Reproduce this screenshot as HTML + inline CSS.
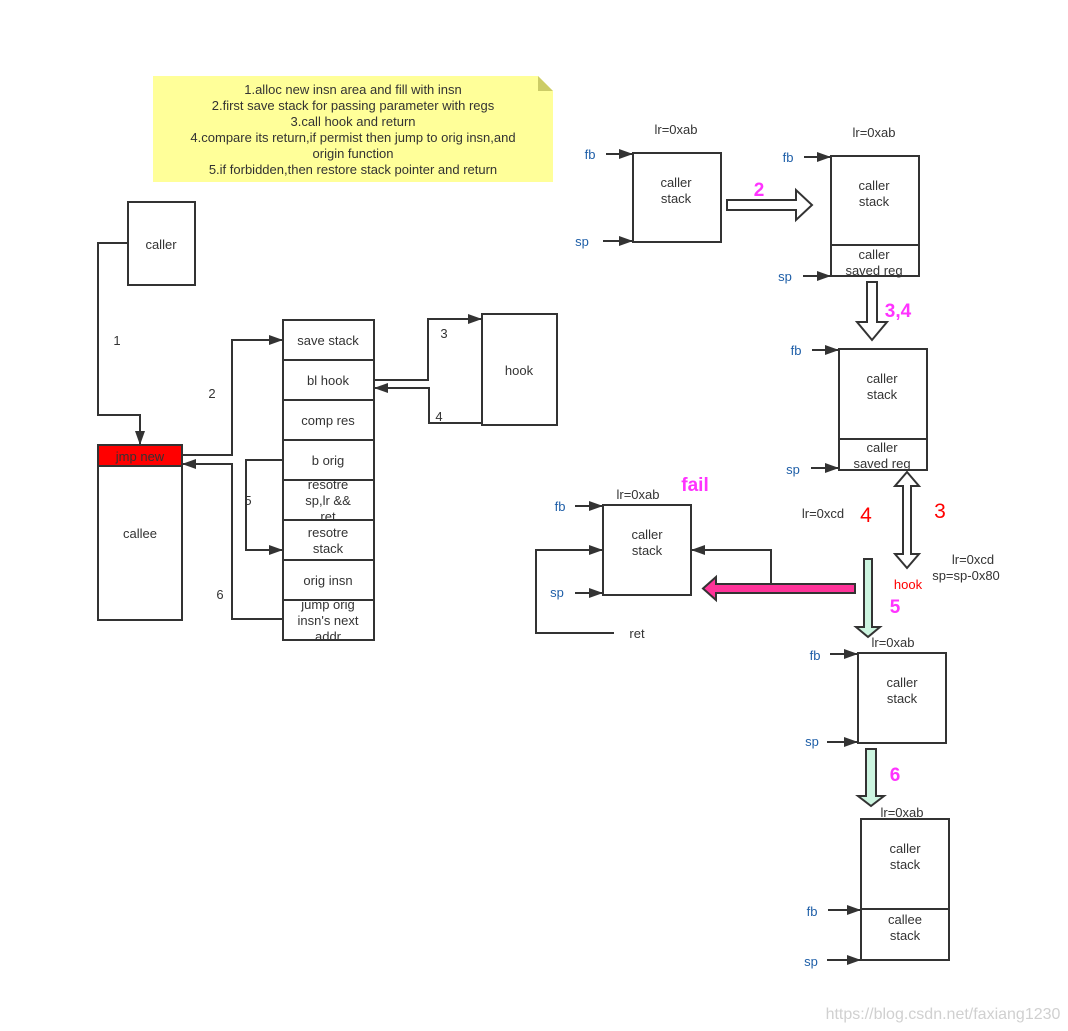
<!DOCTYPE html>
<html><head><meta charset="utf-8">
<style>
html,body{margin:0;padding:0;background:#fff;}
svg{display:block;font-family:"Liberation Sans","DejaVu Sans",sans-serif;}
</style></head>
<body>
<svg width="1068" height="1031" viewBox="0 0 1068 1031" xmlns="http://www.w3.org/2000/svg">
<defs>
<marker id="a" markerWidth="14" markerHeight="10" refX="13" refY="5" orient="auto" markerUnits="userSpaceOnUse">
<path d="M0,0 L14,5 L0,10 Z" fill="#333"/>
</marker>
</defs>
<rect width="1068" height="1031" fill="#fff"/>

<path d="M153,76 H538 L553,91 V182 H153 Z" fill="#ffff99"/>
<path d="M538,76 L553,91 H538 Z" fill="#cccc66"/>
<g font-size="13" fill="#333" text-anchor="middle">
<text x="353" y="94">1.alloc new insn area and fill with insn</text>
<text x="353" y="110">2.first save stack for passing parameter with regs</text>
<text x="353" y="126">3.call hook and return</text>
<text x="353" y="142">4.compare its return,if permist then jump to orig insn,and</text>
<text x="353" y="158">origin function</text>
<text x="353" y="174">5.if forbidden,then restore stack pointer and return</text>
</g>

<g stroke="#333" stroke-width="2" fill="none">
<rect x="128" y="202" width="67" height="83" fill="#fff"/>
<polyline points="128,243 98,243 98,415 140,415 140,444" marker-end="url(#a)"/>
<rect x="98" y="445" width="84" height="175" fill="#fff"/>
<rect x="98" y="445" width="84" height="21" fill="#ff0000"/>
<rect x="283" y="320" width="91" height="320" fill="#fff"/>
<line x1="283" y1="360" x2="374" y2="360"/>
<line x1="283" y1="400" x2="374" y2="400"/>
<line x1="283" y1="440" x2="374" y2="440"/>
<line x1="283" y1="480" x2="374" y2="480"/>
<line x1="283" y1="520" x2="374" y2="520"/>
<line x1="283" y1="560" x2="374" y2="560"/>
<line x1="283" y1="600" x2="374" y2="600"/>
<polyline points="182,455 232,455 232,340 282,340" marker-end="url(#a)"/>
<polyline points="283,619 232,619 232,464 183,464" marker-end="url(#a)"/>
<polyline points="283,460 246,460 246,550 282,550" marker-end="url(#a)"/>
<rect x="482" y="314" width="75" height="111" fill="#fff"/>
<polyline points="374,380 428,380 428,319 481,319" marker-end="url(#a)"/>
<polyline points="482,423 429,423 429,388 375,388" marker-end="url(#a)"/>
</g>
<g font-size="13" fill="#333" text-anchor="middle">
<text x="161" y="249">caller</text>
<text x="140" y="461">jmp new</text>
<text x="140" y="538">callee</text>
<text x="117" y="345">1</text>
<text x="212" y="398">2</text>
<text x="220" y="599">6</text>
<text x="248" y="505">5</text>
<text x="444" y="338">3</text>
<text x="439" y="421">4</text>
<text x="519" y="375">hook</text>
<text x="328" y="345">save stack</text>
<text x="328" y="385">bl hook</text>
<text x="328" y="425">comp res</text>
<text x="328" y="465">b orig</text>
<text x="328" y="489">resotre</text>
<text x="328" y="505">sp,lr &amp;&amp;</text>
<text x="328" y="521">ret</text>
<text x="328" y="537">resotre</text>
<text x="328" y="553">stack</text>
<text x="328" y="585">orig insn</text>
<text x="328" y="609">jump orig</text>
<text x="328" y="625">insn's next</text>
<text x="328" y="641">addr</text>
</g>
<rect x="284" y="641" width="90" height="6" fill="#fff"/>

<g stroke="#333" stroke-width="2" fill="none">
<rect x="633" y="153" width="88" height="89" fill="#fff"/>
<line x1="606" y1="154" x2="632" y2="154" marker-end="url(#a)"/>
<line x1="603" y1="241" x2="632" y2="241" marker-end="url(#a)"/>
<rect x="831" y="156" width="88" height="120" fill="#fff"/>
<line x1="831" y1="245" x2="919" y2="245"/>
<line x1="804" y1="157" x2="830" y2="157" marker-end="url(#a)"/>
<line x1="803" y1="276" x2="830" y2="276" marker-end="url(#a)"/>
<rect x="839" y="349" width="88" height="121" fill="#fff"/>
<line x1="839" y1="439" x2="927" y2="439"/>
<line x1="812" y1="350" x2="838" y2="350" marker-end="url(#a)"/>
<line x1="811" y1="468" x2="838" y2="468" marker-end="url(#a)"/>
<rect x="603" y="505" width="88" height="90" fill="#fff"/>
<line x1="575" y1="506" x2="602" y2="506" marker-end="url(#a)"/>
<line x1="575" y1="593" x2="602" y2="593" marker-end="url(#a)"/>
<polyline points="771,584 771,550 692,550" marker-end="url(#a)"/>
<polyline points="614,633 536,633 536,550 602,550" marker-end="url(#a)"/>
<rect x="858" y="653" width="88" height="90" fill="#fff"/>
<line x1="830" y1="654" x2="857" y2="654" marker-end="url(#a)"/>
<line x1="827" y1="742" x2="857" y2="742" marker-end="url(#a)"/>
<rect x="861" y="819" width="88" height="141" fill="#fff"/>
<line x1="861" y1="909" x2="949" y2="909"/>
<line x1="828" y1="910" x2="860" y2="910" marker-end="url(#a)"/>
<line x1="827" y1="960" x2="860" y2="960" marker-end="url(#a)"/>
<path d="M727,200 H796 V190 L812,205 L796,220 V210 H727 Z" fill="#fff"/>
<path d="M867,282 H877 V322 H887 L872,340 L857,322 H867 Z" fill="#fff"/>
<path d="M907,472 L919,486 H911 V554 H919 L907,568 L895,554 H903 V486 H895 Z" fill="#fff"/>
</g>
<path d="M864,559 H872 V627 H880 L868,637 L856,627 H864 Z" fill="#ccf5e0" stroke="#333" stroke-width="2"/>
<path d="M866,749 H876 V796 H884 L871,806 L858,796 H866 Z" fill="#ccf5e0" stroke="#333" stroke-width="2"/>
<path d="M855,584 H716 V577 L703,588.5 L716,600 V593 H855 Z" fill="#ff3399" stroke="#333" stroke-width="2"/>

<g font-size="13" fill="#333" text-anchor="middle">
<text x="676" y="134">lr=0xab</text>
<text x="676" y="187">caller</text>
<text x="676" y="203">stack</text>
<text x="874" y="137">lr=0xab</text>
<text x="874" y="190">caller</text>
<text x="874" y="206">stack</text>
<text x="874" y="259">caller</text>
<text x="874" y="275">saved reg</text>
<text x="882" y="383">caller</text>
<text x="882" y="399">stack</text>
<text x="882" y="452">caller</text>
<text x="882" y="468">saved reg</text>
<text x="638" y="499">lr=0xab</text>
<text x="647" y="539">caller</text>
<text x="647" y="555">stack</text>
<text x="637" y="638">ret</text>
<text x="823" y="518">lr=0xcd</text>
<text x="973" y="564">lr=0xcd</text>
<text x="966" y="580">sp=sp-0x80</text>
<text x="893" y="647">lr=0xab</text>
<text x="902" y="687">caller</text>
<text x="902" y="703">stack</text>
<text x="902" y="817">lr=0xab</text>
<text x="905" y="853">caller</text>
<text x="905" y="869">stack</text>
<text x="905" y="924">callee</text>
<text x="905" y="940">stack</text>
</g>
<g font-size="13" fill="#1f5fa8" text-anchor="middle">
<text x="590" y="159">fb</text>
<text x="582" y="246">sp</text>
<text x="788" y="162">fb</text>
<text x="785" y="281">sp</text>
<text x="796" y="355">fb</text>
<text x="793" y="474">sp</text>
<text x="560" y="511">fb</text>
<text x="557" y="597">sp</text>
<text x="815" y="660">fb</text>
<text x="812" y="746">sp</text>
<text x="812" y="916">fb</text>
<text x="811" y="966">sp</text>
</g>
<g font-weight="bold" fill="#ff33ff" text-anchor="middle" font-size="19">
<text x="759" y="196">2</text>
<text x="898" y="317">3,4</text>
<text x="695" y="491">fail</text>
<text x="895" y="613">5</text>
<text x="895" y="781">6</text>
</g>
<g fill="#ff0000" text-anchor="middle">
<text x="866" y="522" font-size="21">4</text>
<text x="940" y="518" font-size="21">3</text>
<text x="908" y="589" font-size="13">hook</text>
</g>
<text x="943" y="1019" font-size="16" fill="#d0d0d0" text-anchor="middle">https://blog.csdn.net/faxiang1230</text>
</svg>
</body></html>
